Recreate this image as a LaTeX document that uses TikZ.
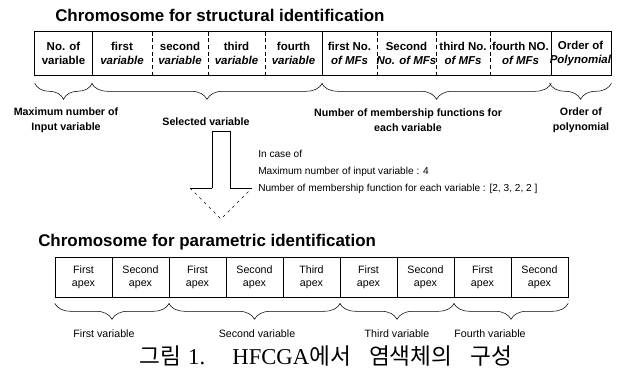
\documentclass[tikz,border=0pt]{standalone}
\usepackage{fontspec}
\setmainfont{Liberation Sans}
\newfontfamily\capserif{Liberation Serif}
\newfontfamily\kr{Noto Sans CJK KR}
\usepackage{tikz}
\usetikzlibrary{decorations.pathreplacing}

\begin{document}
\begin{tikzpicture}[x=0.75pt,y=-0.75pt,
		cell/.style={rectangle,inner sep=0pt,align=center,minimum height=32.25pt,
			font=\bfseries\fontsize{8.6}{10}\selectfont},
		apex/.style={rectangle,draw=black,inner sep=0pt,align=center,minimum width=42.75pt,
			minimum height=30pt,font=\fontsize{8}{9.5}\selectfont},
		lbl/.style={align=center,font=\bfseries\fontsize{8}{11}\selectfont},
		sublbl/.style={font=\fontsize{8}{9}\selectfont},
		ttl/.style={anchor=west,inner sep=0pt,font=\bfseries\fontsize{12.7}{14}\selectfont},
		brc/.style={decorate,decoration={brace,mirror,amplitude=12pt}}]
	\useasboundingbox (0,0) rectangle (623,371);

	% titles
	\node[ttl] (struct) at (55,15) {Chromosome for structural identification};
	\node[ttl] (param) at (38,242) {Chromosome for parametric identification};

	% structural chromosome
	\foreach \l/\r/\txt [count=\i] in {35/92/{No. of\\variable},
		92/152/{first\\\textit{variable}}, 152/208/{second\\\textit{variable}},
		208/265/{third\\\textit{variable}}, 265/322/{fourth\\\textit{variable}},
		322/377/{first No.\\\textit{of MFs}}, 377/436/{Second\\\textit{No. of MFs}},
		436/490/{third No.\\\textit{of MFs}}, 490/551/{fourth NO.\\\textit{of MFs}},
		551/610/{Order of\\\textit{Polynomial}}}
		\node[cell,minimum width={(\r-\l)*0.75pt}] (s\i) at ({(\l+\r)/2},53.5) {\txt};
	\draw (s1.north west) rectangle (s10.south east);
	\foreach \i in {1,5,9}
		\draw (s\i.north east) -- (s\i.south east);
	\foreach \i in {2,3,4,6,7,8}
		\draw[densely dashed] (s\i.north east) -- (s\i.south east);

	% braces above
	\draw[brc] ([yshift=-6pt]s1.south west) -- ([yshift=-6pt]s1.south east);
	\draw[brc] ([yshift=-6pt]s2.south west) -- ([yshift=-6pt]s5.south east);
	\draw[brc] ([yshift=-6pt]s6.south west) -- ([yshift=-6pt]s9.south east);
	\draw[brc] ([yshift=-6pt]s10.south west) -- ([yshift=-6pt]s10.south east);
	\node[lbl] (maxin) at (66,120) {Maximum number of\\Input variable};
	\node[lbl] (selvar) at (206,122) {Selected variable};
	\node[lbl] (nummf) at (408,120) {Number of membership functions for\\each variable};
	\node[lbl] (order) at (581,120) {Order of\\polynomial};

	% hollow arrow
	\draw (212,188) -- (212,131) -- (230,131) -- (230,188);
	\draw (212,188) -- (190,188);
	\draw (230,188) -- (252,188);
	\draw[dash pattern=on 2pt off 3pt] (190,188) -- (221,219) -- (252,188);

	% example case
	\node[anchor=north west,inner sep=0pt,align=left,font=\fontsize{7.6}{12.75}\selectfont]
		(incase) at (258,150)
		{In case of\\Maximum number of input variable : 4\\
		Number of membership function for each variable : [2, 3, 2, 2 ]};

	% parametric chromosome
	\foreach \txt [count=\i] in {{First\\apex},{Second\\apex},{First\\apex},{Second\\apex},
		{Third\\apex},{First\\apex},{Second\\apex},{First\\apex},{Second\\apex}}
		\node[apex] (b\i) at ({55+57*\i-28.5},277) {\txt};

	% braces below
	\draw[brc] ([yshift=-4.5pt]b1.south west) -- ([yshift=-4.5pt]b2.south east);
	\draw[brc] ([yshift=-4.5pt]b3.south west) -- ([yshift=-4.5pt]b5.south east);
	\draw[brc] ([yshift=-4.5pt]b6.south west) -- ([yshift=-4.5pt]b7.south east);
	\draw[brc] ([yshift=-4.5pt]b8.south west) -- ([yshift=-4.5pt]b9.south east);
	\node[sublbl] (var1) at (104,334) {First variable};
	\node[sublbl] (var2) at (257,334) {Second variable};
	\node[sublbl] (var3) at (397,334) {Third variable};
	\node[sublbl] (var4) at (490,334) {Fourth variable};

	% caption
	\node[font=\capserif\fontsize{17}{19}\selectfont] (caption) at (326,356)
		{{\kr 그림}\hspace{0.3em}1.\hspace{1.2em}HFCGA{\kr 에서}\hspace{0.8em}{\kr 염색체의}\hspace{0.8em}{\kr 구성}};
\end{tikzpicture}
\end{document}
